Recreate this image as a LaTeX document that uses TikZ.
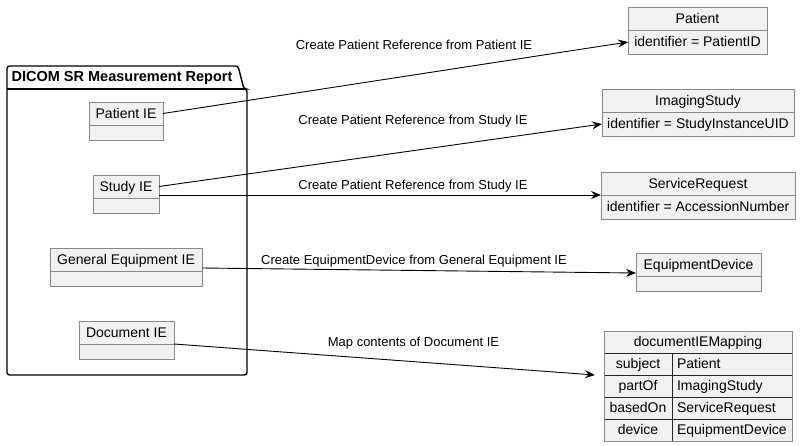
\documentclass[tikz,border=0pt]{standalone}
\usepackage{fontspec}
\setmainfont{Liberation Sans}
\usepackage{tikz}
\usetikzlibrary{arrows.meta,positioning,calc}
\definecolor{umlfill}{HTML}{F1F1F1}
\definecolor{umlborder}{HTML}{888888}
\tikzset{
    classhead/.style={rectangle, draw=umlborder, fill=umlfill, inner sep=0pt, outer sep=0pt, minimum height=23pt, text height=11pt, text depth=2pt, font=\fontsize{14}{16}\selectfont},
    classbody/.style={rectangle, draw=umlborder, fill=umlfill, inner sep=0pt, outer sep=0pt, minimum height=15pt, text height=11pt, text depth=2pt, font=\fontsize{14}{16}\selectfont},
    keycell/.style={rectangle, draw=black!85, fill=umlfill, inner sep=0pt, outer sep=0pt, minimum width=68pt, minimum height=22pt, text height=11pt, text depth=2pt, font=\fontsize{14}{16}\selectfont},
    valcell/.style={rectangle, draw=black!85, fill=umlfill, inner xsep=5pt, inner ysep=0pt, outer sep=0pt, text width=110pt, align=left, minimum height=22pt, text height=11pt, text depth=2pt, font=\fontsize{14}{16}\selectfont},
    line/.style={draw, line width=0.9pt, -{Stealth[length=10pt,width=8pt,inset=3.5pt]}},
    edgelabel/.style={inner sep=0pt, font=\fontsize{13}{15}\selectfont},
    package/.style={draw, line width=1.4pt, rounded corners=2.5pt, fill=white}
}
\begin{document}
\begin{tikzpicture}[x=1pt, y=-1pt]
    \useasboundingbox (0,0) rectangle (801,445);

    % Package
    \draw [package] (244,89) -- (238,66) -- (7,66) -- (7,375) -- (247,375) -- (247,89) -- cycle;
    \draw [line width=1.4pt] (7,89) -- (244,89);
    \node [font=\bfseries\fontsize{14.5}{16}\selectfont] (pkgTitle) at (122,78) {DICOM SR Measurement Report};

    % DICOM information entities
    \node [classhead, minimum width=74pt] (patientIE) at (126,113.5) {Patient IE};
    \node [classbody, minimum width=74pt, below=0pt of patientIE] (patientIEBody) {};
    \node [classhead, minimum width=66pt] (studyIE) at (126,186.5) {Study IE};
    \node [classbody, minimum width=66pt, below=0pt of studyIE] (studyIEBody) {};
    \node [classhead, minimum width=152pt] (equipIE) at (126,259.5) {General Equipment IE};
    \node [classbody, minimum width=152pt, below=0pt of equipIE] (equipIEBody) {};
    \node [classhead, minimum width=95pt] (documentIE) at (126.5,332.5) {Document IE};
    \node [classbody, minimum width=95pt, below=0pt of documentIE] (documentIEBody) {};

    % FHIR resources
    \node [classhead, minimum width=139pt] (patient) at (697.5,18.5) {Patient};
    \node [classbody, minimum width=139pt, minimum height=24pt, below=0pt of patient] (patientAttr) {identifier = PatientID};
    \node [classhead, minimum width=192pt] (imagingStudy) at (698,100.5) {ImagingStudy};
    \node [classbody, minimum width=192pt, minimum height=24pt, below=0pt of imagingStudy] (imagingStudyAttr) {identifier = StudyInstanceUID};
    \node [classhead, minimum width=194pt] (serviceRequest) at (698,183.5) {ServiceRequest};
    \node [classbody, minimum width=194pt, minimum height=24pt, below=0pt of serviceRequest] (serviceRequestAttr) {identifier = AccessionNumber};
    \node [classhead, minimum width=125pt] (equipmentDevice) at (698.5,264.5) {EquipmentDevice};
    \node [classbody, minimum width=125pt, below=0pt of equipmentDevice] (equipmentDeviceBody) {};

    % Mapping table
    \node [classhead, draw=black!85, minimum width=188pt, minimum height=22pt] (docMapping) at (698,342) {documentIEMapping};
    \node [keycell, anchor=north west] (keySubject) at (docMapping.south west) {subject};
    \node [keycell, below=0pt of keySubject] (keyPartOf) {partOf};
    \node [keycell, below=0pt of keyPartOf] (keyBasedOn) {basedOn};
    \node [keycell, below=0pt of keyBasedOn] (keyDevice) {device};
    \node [valcell, right=0pt of keySubject] (valSubject) {Patient};
    \node [valcell, right=0pt of keyPartOf] (valPartOf) {ImagingStudy};
    \node [valcell, right=0pt of keyBasedOn] (valBasedOn) {ServiceRequest};
    \node [valcell, right=0pt of keyDevice] (valDevice) {EquipmentDevice};
    \draw [umlborder] (docMapping.north west) rectangle (valDevice.south east);

    % Mapping arrows
    \path [line] (patientIE.east) -- (patientAttr.west);
    \path [line] (studyIE.east) -- (imagingStudyAttr.west);
    \path [line] (studyIE.east |- serviceRequest.south west) -- (serviceRequest.south west);
    \path [line] ([yshift=3pt]equipIE.south east) -- ([yshift=3pt]equipmentDevice.south west);
    \path [line] (documentIE.south east) -- ([xshift=-9pt]keySubject.south west);

    % Arrow labels
    \node [edgelabel] (lblPatient) at (414,45) {Create Patient Reference from Patient IE};
    \node [edgelabel] (lblStudy) at (413,121) {Create Patient Reference from Study IE};
    \node [edgelabel] (lblService) at (413,186) {Create Patient Reference from Study IE};
    \node [edgelabel] (lblDevice) at (414,261) {Create EquipmentDevice from General Equipment IE};
    \node [edgelabel] (lblMap) at (413.5,343) {Map contents of Document IE};
\end{tikzpicture}
\end{document}
